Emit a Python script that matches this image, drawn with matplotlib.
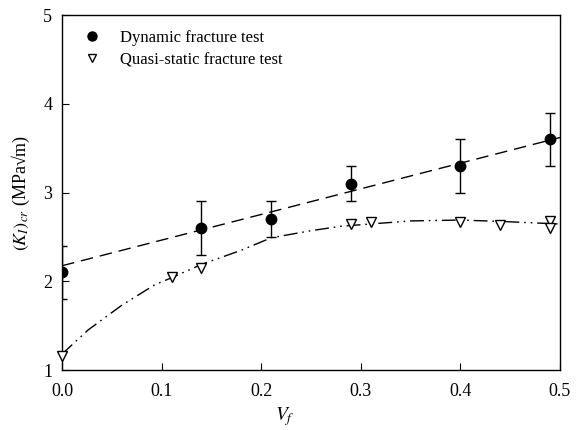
import matplotlib
matplotlib.use('Agg')
import matplotlib.pyplot as plt
from matplotlib.lines import Line2D

plt.rcParams['font.family'] = ['Liberation Serif', 'DejaVu Serif']
plt.rcParams['mathtext.fontset'] = 'stix'

# dynamic fracture test
dyn_vf = [0.0, 0.14, 0.21, 0.29, 0.40, 0.49]
dyn_k = [2.1, 2.6, 2.7, 3.1, 3.3, 3.6]
dyn_err = [0.3, 0.3, 0.2, 0.2, 0.3, 0.3]
# dashed fit line
dyn_fit_vf = [0.0, 0.5]
dyn_fit_k = [2.175, 3.62]

# quasi-static fracture test
qs_vf = [0.0, 0.11, 0.14, 0.29, 0.31, 0.40, 0.44, 0.49, 0.49]
qs_k = [1.16, 2.05, 2.15, 2.64, 2.67, 2.67, 2.63, 2.68, 2.60]
# dash-dot-dot fit curve
qs_fit_vf = [0.0, 0.026, 0.06, 0.093, 0.11, 0.14, 0.18, 0.21, 0.25, 0.28, 0.35, 0.40, 0.45, 0.50]
qs_fit_k = [1.18, 1.45, 1.73, 1.96, 2.04, 2.19, 2.35, 2.49, 2.57, 2.62, 2.68, 2.69, 2.67, 2.645]

labels = ['Dynamic fracture test', 'Quasi-static fracture test']

fig = plt.figure(figsize=(5.8, 4.3), dpi=100)
ax = fig.add_axes([0.107, 0.1395, 0.8585, 0.8255])

ax.plot(dyn_fit_vf, dyn_fit_k, c='k', lw=1.0, dashes=(9, 5))
ax.plot(qs_fit_vf, qs_fit_k, c='k', lw=1.0, dashes=(10, 3.5, 1.2, 3.5, 1.2, 3.5))

ax.errorbar(dyn_vf, dyn_k, yerr=dyn_err, fmt='o', c='k', ms=7.5, elinewidth=1.0,
            capsize=3.5, capthick=1.0, zorder=4)
ax.plot(qs_vf, qs_k, 'v', ms=7.5, mfc='white', mec='k', mew=1.0, ls='none',
        zorder=5, clip_on=False)

ax.set_xlim(0, 0.5)
ax.set_ylim(1, 5)
ax.set_xticks([0.0, 0.1, 0.2, 0.3, 0.4, 0.5])
ax.set_xticklabels(['0.0', '0.1', '0.2', '0.3', '0.4', '0.5'])
ax.set_yticks([1, 2, 3, 4, 5])
ax.tick_params(direction='in', length=5, width=0.8, labelsize=13)
ax.tick_params(axis='x', pad=9)
ax.tick_params(axis='y', pad=7)
for s in ax.spines.values():
    s.set_linewidth(1.0)

ax.set_xlabel(r'$V_f$', fontsize=14)
ax.xaxis.set_label_coords(0.448, -0.1)
ax.set_ylabel(r'$(K_I)_{cr}$ (MPa√m)', fontsize=13)
ax.yaxis.set_label_coords(-0.06, 0.5)

h = [Line2D([], [], marker='o', c='k', ls='none', ms=6.5),
     Line2D([], [], marker='v', mfc='white', mec='k', mew=1.0, ls='none', ms=6)]
ax.legend(h, labels, loc='upper left', frameon=False, fontsize=12, handlelength=1.0,
          handletextpad=1.2, borderaxespad=0.3, bbox_to_anchor=(0.02, 0.99), labelspacing=0.35)

fig.savefig('out.png', dpi=100)
